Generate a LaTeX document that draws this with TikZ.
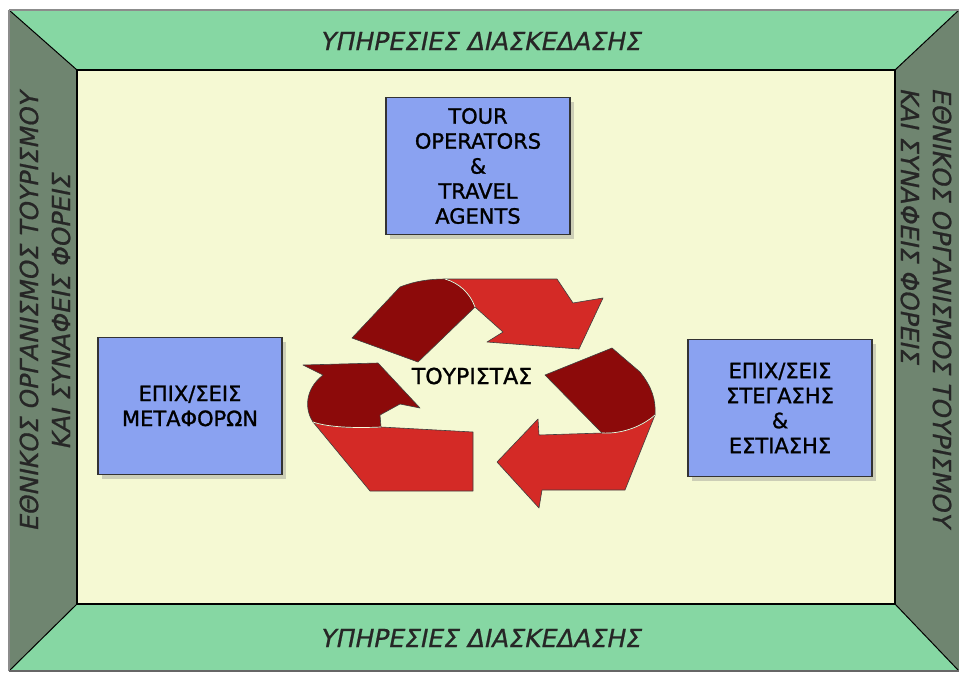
\documentclass[tikz,border=0pt]{standalone}
\usepackage{fontspec}
\setmainfont{DejaVu Sans}
\newfontfamily\heavyfont[FakeBold=1.2]{DejaVu Sans}
\newfontfamily\bandfont[FakeBold=0.8,FakeSlant=0.2]{DejaVu Sans}
\usetikzlibrary{shadows}

\definecolor{bandgreen}{HTML}{86D7A3}
\definecolor{sidegray}{HTML}{6F8570}
\definecolor{cream}{HTML}{F5F9D3}
\definecolor{boxblue}{HTML}{8AA2F1}
\definecolor{darkred}{HTML}{8C0A0A}
\definecolor{lightred}{HTML}{D42A26}

\begin{document}
\begin{tikzpicture}[x=1pt,y=-1pt]
\tikzstyle{every node}+=[inner sep=0pt]
\tikzstyle{agency}=[draw=black!80, line width=1.5pt, fill=boxblue, align=center,
  minimum width=184pt, minimum height=137pt, font=\heavyfont\fontsize{21}{25}\selectfont,
  drop shadow={shadow xshift=4pt, shadow yshift=-4pt, opacity=.35}]
\tikzstyle{bandtext}=[font=\bandfont\fontsize{25}{32}\selectfont, text=black!85]
\tikzstyle{redpart}=[draw=black!75, line width=0.6pt, line join=round]
\useasboundingbox (0,0) rectangle (959,673);
\fill [white] (0,0) rectangle (959,673);
% frame corners
\coordinate (o1) at (9,10);
\coordinate (o2) at (959,10);
\coordinate (o3) at (959,671);
\coordinate (o4) at (9,671);
\coordinate (i1) at (77,70);
\coordinate (i2) at (895,70);
\coordinate (i3) at (895,604);
\coordinate (i4) at (77,604);
% four walls
\fill [bandgreen] (o1) -- (o2) -- (i2) -- (i1) -- cycle;
\fill [bandgreen] (o4) -- (o3) -- (i3) -- (i4) -- cycle;
\fill [sidegray] (o1) -- (i1) -- (i4) -- (o4) -- cycle;
\fill [sidegray] (o2) -- (o3) -- (i3) -- (i2) -- cycle;
\fill [cream] (i1) rectangle (i3);
\draw [black, line width=1.8pt] (i1) rectangle (i3);
\draw [black, line width=1pt] (o1) -- (i1);
\draw [black, line width=1pt] (o2) -- (i2);
\draw [black, line width=1pt] (o3) -- (i3);
\draw [black, line width=1pt] (o4) -- (i4);
\draw [black!45, line width=2pt] (o1) -- (o2);
\draw [black!45, line width=1.5pt] (o1) -- (o4);
\draw [black!60, line width=1.5pt] (o4) -- (o3);
% wall labels
\node [bandtext] (topband) at (480,41) {ΥΠΗΡΕΣΙΕΣ ΔΙΑΣΚΕΔΑΣΗΣ};
\node [bandtext] (botband) at (480,638) {ΥΠΗΡΕΣΙΕΣ ΔΙΑΣΚΕΔΑΣΗΣ};
\node [bandtext, rotate=90, align=center] (leftband) at (45,312)
  {ΕΘΝΙΚΟΣ ΟΡΓΑΝΙΣΜΟΣ ΤΟΥΡΙΣΜΟΥ\\ΚΑΙ ΣΥΝΑΦΕΙΣ ΦΟΡΕΙΣ};
\node [bandtext, rotate=-90, align=left] (rightband) at (926,307)
  {ΕΘΝΙΚΟΣ ΟΡΓΑΝΙΣΜΟΣ ΤΟΥΡΙΣΜΟΥ\\ΚΑΙ ΣΥΝΑΦΕΙΣ ΦΟΡΕΙΣ};
% agencies
\node [agency] (tour) at (478,166) {TOUR\\OPERATORS\\\&\\TRAVEL\\AGENTS};
\node [agency] (metaf) at (190,406) {ΕΠΙΧ/ΣΕΙΣ\\ΜΕΤΑΦΟΡΩΝ};
\node [agency] (steg) at (780,408) {ΕΠΙΧ/ΣΕΙΣ\\ΣΤΕΓΑΣΗΣ\\\&\\ΕΣΤΙΑΣΗΣ};
% recycling arrows
\filldraw [redpart, fill=darkred] (352,338) -- (400,287) .. controls (415,281) and (430,279) .. (445,279)
  .. controls (459,283) and (470,293) .. (475,307) -- (418,362) -- cycle;
\filldraw [redpart, fill=lightred] (445,279) -- (557,279) -- (573,303) -- (603,298) -- (579,349)
  -- (487,342) -- (503,332) -- (475,307) .. controls (470,293) and (459,283) .. (445,279) -- cycle;
\filldraw [redpart, fill=darkred] (545,375) -- (612,348) -- (640,372)
  .. controls (652,387) and (656,400) .. (655,415) .. controls (640,428) and (620,434) .. (602,433) -- cycle;
\filldraw [redpart, fill=lightred] (655,415) -- (625,490) -- (542,490) -- (539,508) -- (497,462)
  -- (538,419) -- (539,435) -- (602,433) .. controls (620,434) and (640,428) .. (655,415) -- cycle;
\filldraw [redpart, fill=lightred] (313,422) .. controls (330,428) and (360,428) .. (381,427)
  -- (473,432) -- (473,491) -- (370,491) -- cycle;
\filldraw [redpart, fill=darkred] (313,422) .. controls (305,410) and (304,390) .. (323,375)
  -- (303,365) -- (378,363) -- (420,408) -- (400,404) -- (380,415) -- (381,427)
  .. controls (360,428) and (330,428) .. (313,422) -- cycle;
% light folds
\draw [cream!80, line width=0.7pt] (445,279) .. controls (459,283) and (470,293) .. (475,307);
\draw [cream!80, line width=0.7pt] (655,415) .. controls (640,428) and (620,434) .. (602,433);
\draw [cream!80, line width=0.7pt] (313,422) .. controls (330,428) and (360,428) .. (381,427);
\node [font=\heavyfont\fontsize{22}{25}\selectfont] (tourist) at (472,376) {ΤΟΥΡΙΣΤΑΣ};
\end{tikzpicture}
\end{document}
